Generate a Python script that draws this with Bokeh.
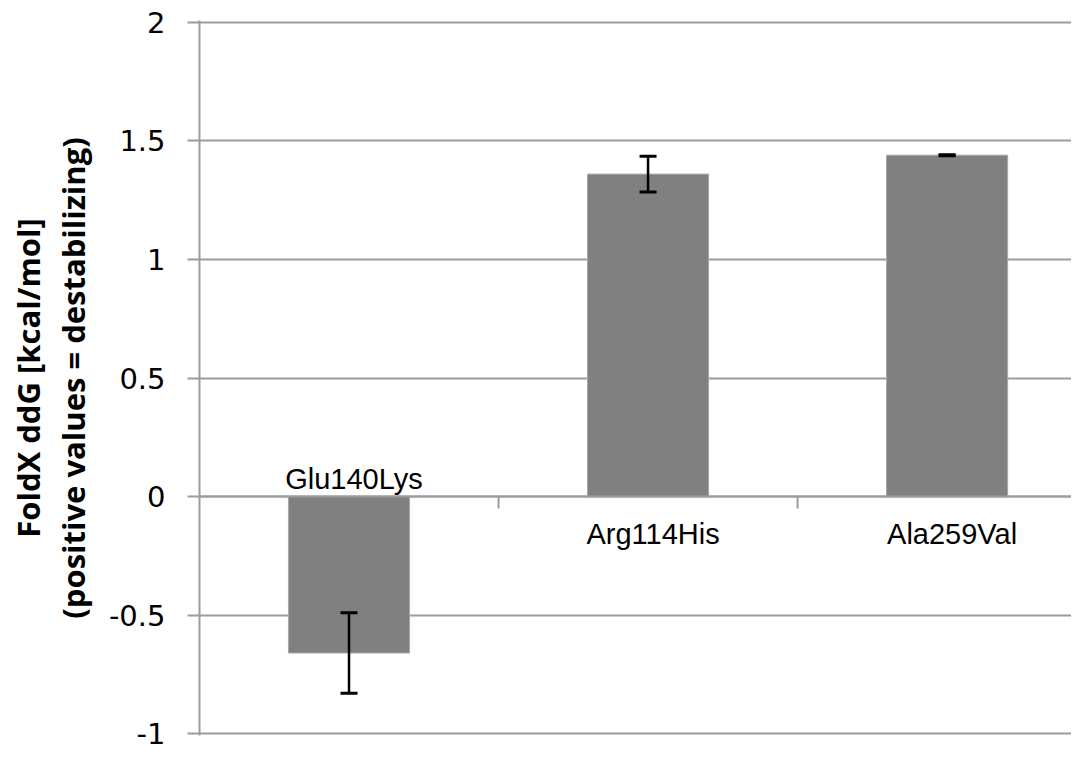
import math
from bokeh.plotting import figure
from bokeh.models import (ColumnDataSource, Range1d, FixedTicker, Whisker, TeeHead,
                          Span)
from bokeh.core.properties import value
from bokeh.embed import file_html
from bokeh.resources import INLINE

# ---- data ----
mutations = ["Glu140Lys", "Arg114His", "Ala259Val"]
ddg = [-0.66, 1.36, 1.44]
ddg_err = [0.17, 0.075, 0.002]
y_ticks = [-1, -0.5, 0, 0.5, 1, 1.5, 2]
y_tick_labels = ["-1", "-0.5", "0", "0.5", "1", "1.5", "2"]
y_label_line1 = "FoldX ddG [kcal/mol]"
y_label_line2 = "(positive values = destabilizing)"

n = len(mutations)
xc = [i + 0.5 for i in range(n)]
src = ColumnDataSource(dict(
    x=xc, top=ddg,
    upper=[v + e for v, e in zip(ddg, ddg_err)],
    lower=[v - e for v, e in zip(ddg, ddg_err)],
    name=mutations,
    yoff=[-18 if v < 0 else 37 for v in ddg],
))

GRID = "#9c9c9c"

p = figure(width=1071, height=750, output_backend="svg", toolbar_location=None,
           x_range=Range1d(0, 2.916), y_range=Range1d(-1.008, 2.008),
           min_border_left=199, min_border_right=0, min_border_top=20,
           min_border_bottom=15)
p.outline_line_color = None
p.background_fill_color = "white"
p.border_fill_color = "white"

p.xaxis.visible = False
p.xgrid.visible = False

p.yaxis.ticker = FixedTicker(ticks=y_ticks)
p.yaxis.major_label_overrides = {t: l for t, l in zip(y_ticks, y_tick_labels)}
p.yaxis.major_label_text_font = "DejaVu Sans"
p.yaxis.major_label_text_font_size = "29px"
p.yaxis.major_label_text_color = "black"
p.yaxis.major_label_standoff = 22
p.yaxis.major_tick_out = 12
p.yaxis.major_tick_in = 0
p.yaxis.minor_tick_line_color = None
p.yaxis.major_tick_line_color = GRID
p.yaxis.major_tick_line_width = 2
p.yaxis.axis_line_color = GRID
p.yaxis.axis_line_width = 2

# two-line axis title
p.yaxis.axis_label = y_label_line1 + "\n" + y_label_line2
p.yaxis.axis_label_text_font = "Open Sans"
p.yaxis.axis_label_text_font_style = "bold"
p.yaxis.axis_label_text_font_size = "31px"
p.yaxis.axis_label_text_color = "black"
p.yaxis.axis_label_text_line_height = 1.07
p.yaxis.axis_label_standoff = 12

p.ygrid.ticker = FixedTicker(ticks=y_ticks)
p.ygrid.grid_line_color = GRID
p.ygrid.grid_line_width = 2

# bars
p.vbar(x="x", top="top", bottom=0, width=0.405, source=src,
       fill_color="#808080", line_color="#a8a8a8", line_width=1)

# zero axis line + category boundary ticks
p.add_layout(Span(location=0, dimension="width", line_color=GRID, line_width=2))
p.ray(x=list(range(1, n)), y=[0] * (n - 1), length=12, length_units="screen",
      angle=-math.pi / 2, line_color=GRID, line_width=2)

# error bars
w = Whisker(base="x", upper="upper", lower="lower", source=src,
            line_color="black", line_width=2.5,
            upper_head=TeeHead(size=17, line_color="black", line_width=3),
            lower_head=TeeHead(size=17, line_color="black", line_width=3),
            level="overlay")
p.add_layout(w)

# category labels at the zero line
p.text(x="x", y=0, text="name", source=src, x_offset=5, y_offset="yoff",
       text_align="center", text_baseline="alphabetic",
       text_font=value("Liberation Sans"), text_font_size="29px",
       text_color="black")

open("out.html", "w").write(file_html(p, INLINE))
